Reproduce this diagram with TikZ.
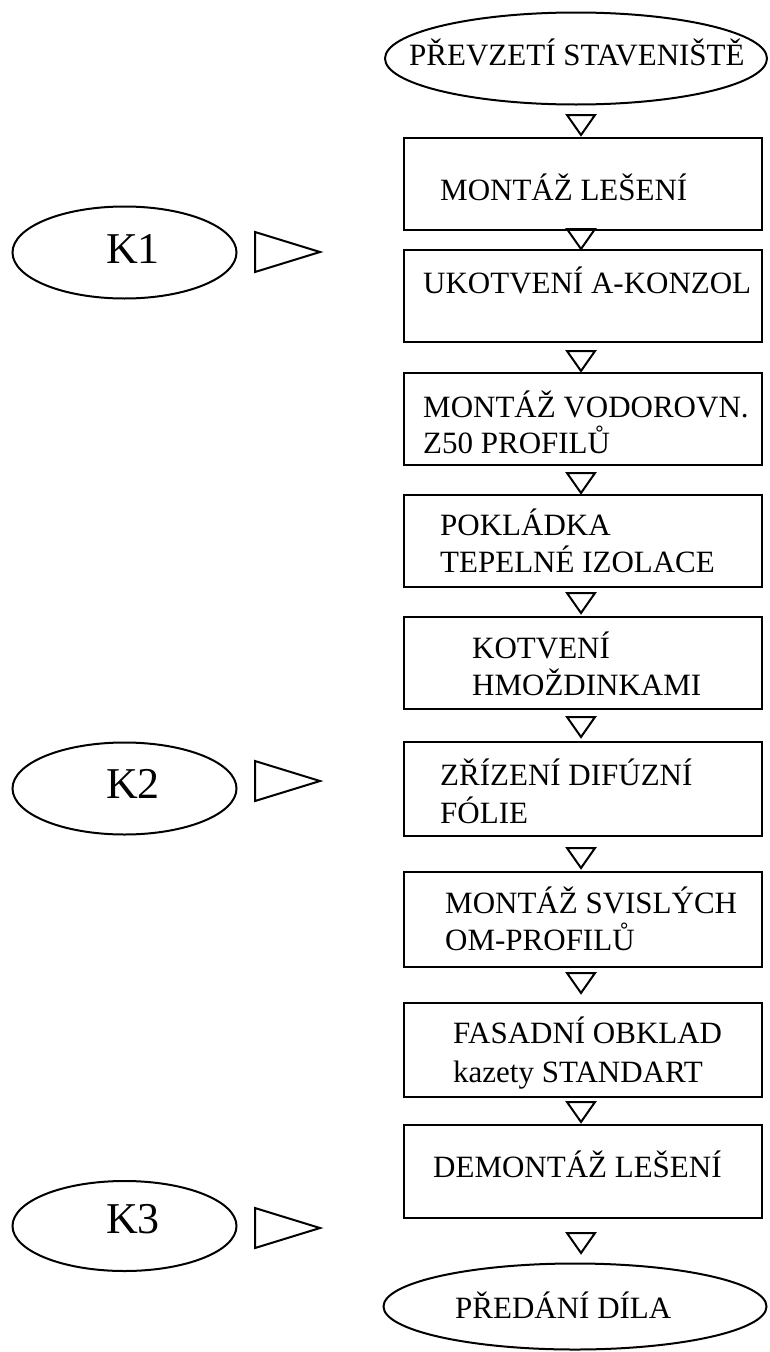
\documentclass[tikz,border=0pt]{standalone}
\usepackage{fontspec}
\setmainfont{Liberation Serif}
\usetikzlibrary{shapes.geometric}
\tikzset{
  stepbox/.style={draw, line width=2.6pt, rectangle, inner sep=0pt, minimum width=358pt},
  oval/.style={draw, line width=2pt, ellipse, inner sep=0pt},
  txt/.style={anchor=base west, inner sep=0pt, font=\fontsize{31}{36}\selectfont},
  ktxt/.style={anchor=base west, inner sep=0pt, font=\fontsize{44}{50}\selectfont},
  tri/.style={draw, line width=2pt, line join=miter},
}
\newcommand\dtri[1]{\draw[tri] (581-14,#1) -- (581+14,#1) -- (581,#1+20) -- cycle;}
\newcommand\rtri[1]{\draw[tri] (255,#1-20) -- (320,#1) -- (255,#1+20) -- cycle;}
\begin{document}
\begin{tikzpicture}[x=1pt,y=-1pt]
\useasboundingbox (0,0) rectangle (769,1352);
% start / end
\node[oval, minimum width=382pt, minimum height=92pt] (start) at (576,58.5) {};
\node[txt] (startt) at (409,65) {PŘEVZETÍ STAVENIŠTĚ};
\node[oval, minimum width=383pt, minimum height=86pt] (finish) at (575,1306.5) {};
\node[txt] (finisht) at (455,1318) {PŘEDÁNÍ DÍLA};
% boxes
\node[stepbox, minimum height=92pt] (b1) at (583,184) {};
\node[stepbox, minimum height=92pt] (b2) at (583,296) {};
\node[stepbox, minimum height=92pt] (b3) at (583,419) {};
\node[stepbox, minimum height=92pt] (b4) at (583,541) {};
\node[stepbox, minimum height=92pt] (b5) at (583,663) {};
\node[stepbox, minimum height=94pt] (b6) at (583,789) {};
\node[stepbox, minimum height=95pt] (b7) at (583,919.5) {};
\node[stepbox, minimum height=94pt] (b8) at (583,1050) {};
\node[stepbox, minimum height=93pt] (b9) at (583,1171.5) {};
% texts
\node[txt] (b1a) at (440,200) {MONTÁŽ LEŠENÍ};
\node[txt] (b2a) at (423,293) {UKOTVENÍ A-KONZOL};
\node[txt] (b3a) at (423,417) {MONTÁŽ VODOROVN.};
\node[txt] (b3b) at (423,453) {Z50 PROFILŮ};
\node[txt] (b4a) at (440,535) {POKLÁDKA};
\node[txt] (b4b) at (440,572) {TEPELNÉ IZOLACE};
\node[txt] (b5a) at (472,658) {KOTVENÍ};
\node[txt] (b5b) at (472,695) {HMOŽDINKAMI};
\node[txt] (b6a) at (440,785) {ZŘÍZENÍ DIFÚZNÍ};
\node[txt] (b6b) at (440,823) {FÓLIE};
\node[txt] (b7a) at (445,913) {MONTÁŽ SVISLÝCH};
\node[txt] (b7b) at (445,950) {OM-PROFILŮ};
\node[txt] (b8a) at (453,1043) {FASADNÍ OBKLAD};
\node[txt] (b8b) at (453,1082) {kazety STANDART};
\node[txt] (b9a) at (433,1177) {DEMONTÁŽ LEŠENÍ};
% down triangles
\dtri{115}
\dtri{229}
\dtri{351}
\dtri{473}
\dtri{593}
\dtri{717}
\dtri{848}
\dtri{973}
\dtri{1102}
\dtri{1233}
% control points
\node[oval, minimum width=224pt, minimum height=92pt] (k1) at (124.5,252.5) {};
\node[ktxt] (k1t) at (106,263) {K1};
\node[oval, minimum width=224pt, minimum height=92pt] (k2) at (124.5,788.5) {};
\node[ktxt] (k2t) at (106,798) {K2};
\node[oval, minimum width=224pt, minimum height=90pt] (k3) at (124.5,1226) {};
\node[ktxt] (k3t) at (106,1233) {K3};
\rtri{252}
\rtri{781}
\rtri{1228}
\end{tikzpicture}
\end{document}
